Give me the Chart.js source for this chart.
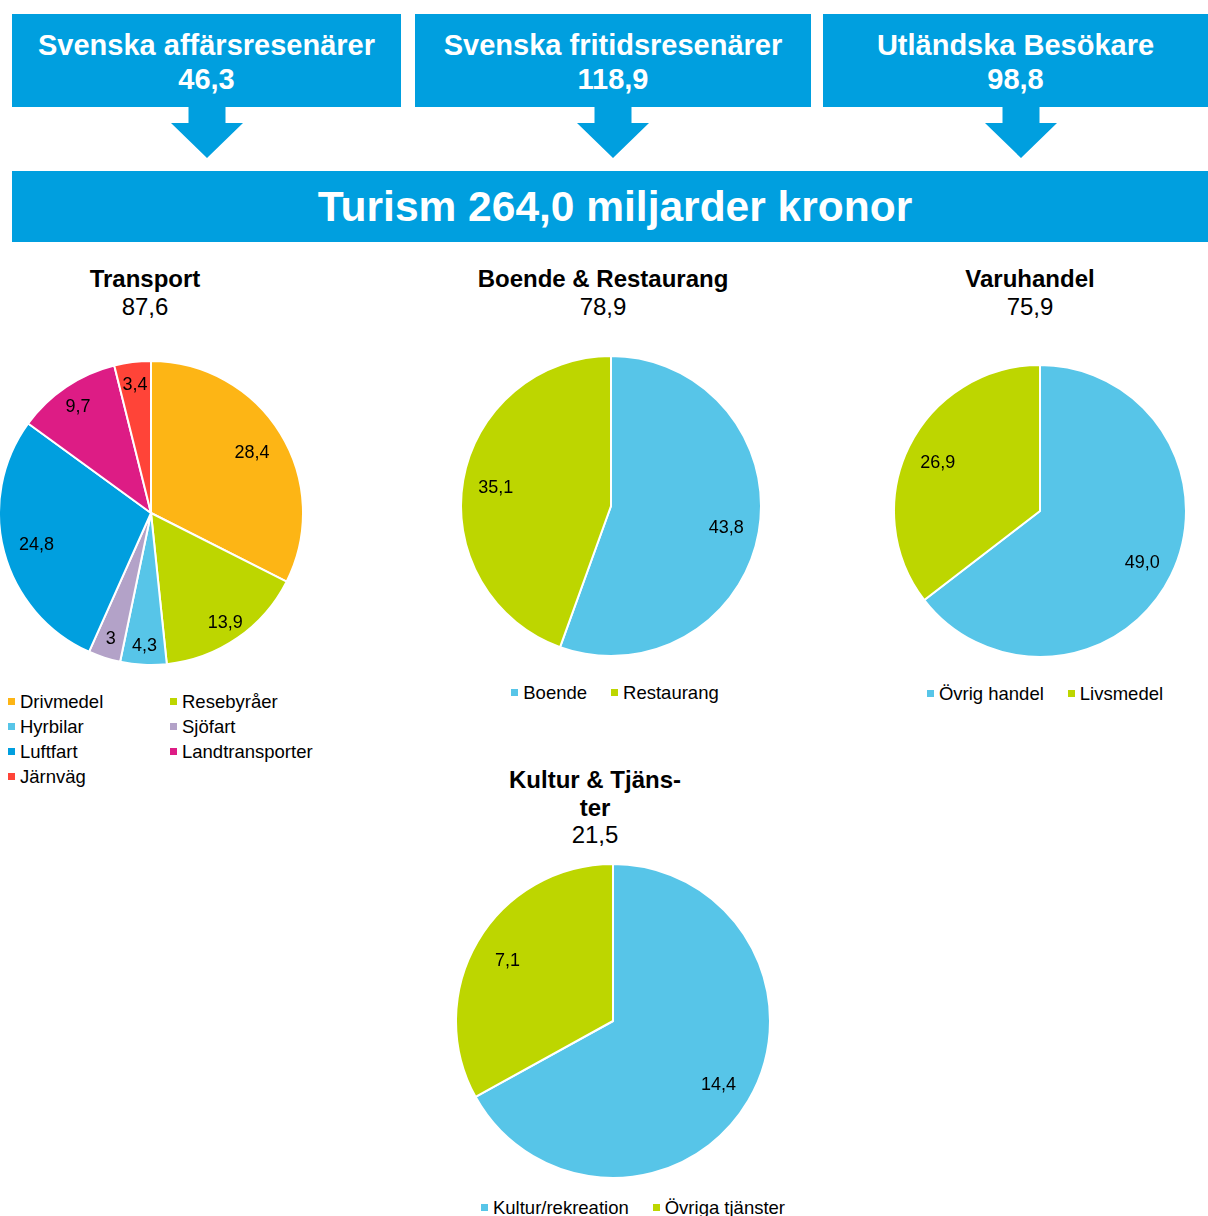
<!DOCTYPE html>
<html>
<head>
<meta charset="utf-8">
<script src="https://cdn.jsdelivr.net/npm/chart.js@4.4.1/dist/chart.umd.min.js"></script>
<style>
  body { margin: 0; background: #fff; font-family: "Liberation Sans", Arial, sans-serif; }
  #page { position: relative; width: 1208px; height: 1216px; overflow: hidden; }
  .box { position: absolute; background: #009FDF; color: #fff; font-weight: bold; text-align: center; }
  .head { top: 14px; height: 93px; font-size: 29px; line-height: 34px; padding-top: 0; }
  .head div:first-child { margin-top: 14px; }
  .arrow { position: absolute; top: 107px; width: 72px; height: 52px; background: #009FDF;
    clip-path: polygon(17.5px 0, 54.5px 0, 54.5px 16px, 72px 16px, 36px 51px, 0 16px, 17.5px 16px); }
  .ptitle { position: absolute; width: 300px; text-align: center; font-size: 24px; line-height: 28px; color: #000; }
  .ptitle b { font-weight: bold; }
  .pie { position: absolute; }
  .legend { position: absolute; font-size: 18.5px; color: #000; line-height: 25px; }
  .legend.row { display: flex; justify-content: center; gap: 24px; width: 400px; }
  .legend.grid { display: grid; grid-template-columns: 162px 162px; }
  .item { display: flex; align-items: center; white-space: nowrap; }
  .sw { width: 7px; height: 7px; margin-right: 5px; display: inline-block; }
</style>
</head>
<body>
<div id="page">
  <div class="box head" style="left:12px;width:389px"><div>Svenska affärsresenärer</div><div>46,3</div></div>
  <div class="box head" style="left:415px;width:396px"><div>Svenska fritidsresenärer</div><div>118,9</div></div>
  <div class="box head" style="left:823px;width:385px"><div>Utländska Besökare</div><div>98,8</div></div>
  <div class="arrow" style="left:171px"></div>
  <div class="arrow" style="left:577px"></div>
  <div class="arrow" style="left:985px"></div>
  <div class="box" style="left:12px;top:171px;width:1186px;padding-left:10px;height:71px;font-size:42.5px;line-height:72px">Turism 264,0 miljarder kronor</div>

  <div class="ptitle" style="left:-5px;top:265px"><b>Transport</b><br>87,6</div>
  <div class="ptitle" style="left:453px;top:265px"><b>Boende &amp; Restaurang</b><br>78,9</div>
  <div class="ptitle" style="left:880px;top:265px"><b>Varuhandel</b><br>75,9</div>
  <div class="ptitle" style="left:445px;top:766px;line-height:27.5px"><b>Kultur &amp; Tjäns-<br>ter</b><br>21,5</div>

  <div class="pie" style="left:-2px;top:360px"><canvas id="cTransport" width="306" height="306"></canvas></div>
  <div class="pie" style="left:460px;top:355px"><canvas id="cBoende" width="302" height="302"></canvas></div>
  <div class="pie" style="left:893px;top:364px"><canvas id="cVaru" width="294" height="294"></canvas></div>
  <div class="pie" style="left:455px;top:863px"><canvas id="cKultur" width="316" height="316"></canvas></div>

  <div id="lTransport" class="legend grid" style="left:8px;top:689px"></div>
  <div id="lBoende" class="legend row" style="left:415px;top:680px"></div>
  <div id="lVaru" class="legend row" style="left:845px;top:681px"></div>
  <div id="lKultur" class="legend row" style="left:433px;top:1195px"></div>
</div>
<script>
// data
const transportLabels = ['Drivmedel', 'Resebyråer', 'Hyrbilar', 'Sjöfart', 'Luftfart', 'Landtransporter', 'Järnväg'];
const transportValues = [28.4, 13.9, 4.3, 3, 24.8, 9.7, 3.4];
const transportColors = ['#FDB515', '#BDD600', '#57C5E8', '#B3A2C8', '#009FDF', '#DD1C85', '#FF4438'];

const boendeLabels = ['Boende', 'Restaurang'];
const boendeValues = [43.8, 35.1];

const varuLabels = ['Övrig handel', 'Livsmedel'];
const varuValues = [49.0, 26.9];

const kulturLabels = ['Kultur/rekreation', 'Övriga tjänster'];
const kulturValues = [14.4, 7.1];

const twoColors = ['#57C5E8', '#BDD600'];

function fmt(v) {
  return Number.isInteger(v) && v < 5 ? String(v) : v.toFixed(1).replace('.', ',');
}

// draws the slice values inside the pie
const sliceLabels = {
  id: 'sliceLabels',
  afterDatasetsDraw(chart) {
    const ctx = chart.ctx;
    const meta = chart.getDatasetMeta(0);
    const vals = chart.data.datasets[0].data;
    const total = vals.reduce((a, b) => a + b, 0);
    ctx.save();
    ctx.font = '18px "Liberation Sans", Arial, sans-serif';
    ctx.fillStyle = '#000';
    ctx.textAlign = 'center';
    ctx.textBaseline = 'middle';
    meta.data.forEach((arc, i) => {
      const p = arc.getProps(['x', 'y', 'startAngle', 'endAngle', 'outerRadius'], true);
      const mid = (p.startAngle + p.endAngle) / 2;
      const f = vals[i] / total >= 0.2 ? 0.78 : 0.86;
      const r = p.outerRadius * f;
      ctx.fillText(fmt(vals[i]), p.x + Math.cos(mid) * r, p.y + Math.sin(mid) * r + 2);
    });
    ctx.restore();
  }
};

function makePie(canvasId, labels, values, colors) {
  return new Chart(document.getElementById(canvasId).getContext('2d'), {
    type: 'pie',
    data: {
      labels,
      datasets: [{ data: values, backgroundColor: colors, borderColor: '#fff', borderWidth: 2 }]
    },
    options: {
      responsive: false,
      animation: false,
      layout: { padding: 0 },
      plugins: { legend: { display: false }, tooltip: { enabled: false } }
    },
    plugins: [sliceLabels]
  });
}

function makeLegend(divId, labels, colors) {
  const wrap = document.getElementById(divId);
  labels.forEach((l, i) => {
    const it = document.createElement('div');
    it.className = 'item';
    const sw = document.createElement('span');
    sw.className = 'sw';
    sw.style.background = colors[i];
    it.appendChild(sw);
    it.appendChild(document.createTextNode(l));
    wrap.appendChild(it);
  });
}

makePie('cTransport', transportLabels, transportValues, transportColors);
makePie('cBoende', boendeLabels, boendeValues, twoColors);
makePie('cVaru', varuLabels, varuValues, twoColors);
makePie('cKultur', kulturLabels, kulturValues, twoColors);

makeLegend('lTransport', transportLabels, transportColors);
makeLegend('lBoende', boendeLabels, twoColors);
makeLegend('lVaru', varuLabels, twoColors);
makeLegend('lKultur', kulturLabels, twoColors);
</script>
</body>
</html>
